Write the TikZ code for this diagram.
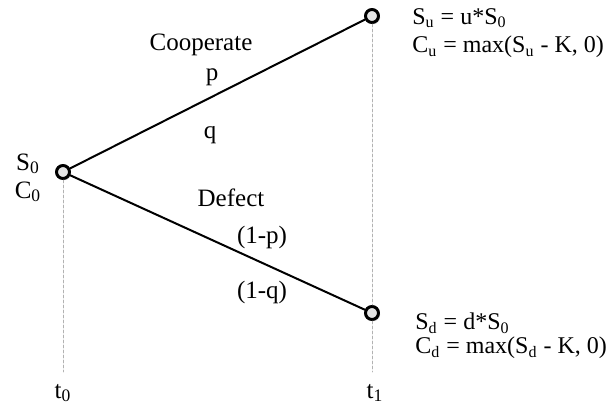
\documentclass[tikz,border=0pt]{standalone}
\usepackage{fontspec}
\setmainfont{Liberation Serif}
\usetikzlibrary{shadows}
\tikzset{
  state/.style={circle,draw,line width=1.5pt,fill=gray!20,inner sep=0pt,minimum size=6.5pt,
    drop shadow={shadow xshift=0.8pt,shadow yshift=-0.8pt,opacity=0.3}},
  branch/.style={line width=1pt},
  guide/.style={gray!60,dash pattern=on 1.5pt off 1pt,line width=0.3pt},
  lbl/.style={inner sep=0pt},
  payoff/.style={inner sep=0pt,anchor=west,font=\fontsize{12}{14}\selectfont},
}
\begin{document}
\begin{tikzpicture}[x=0.5pt,y=-0.5pt,line cap=round,line join=round,font=\fontsize{12.5}{15}\selectfont]
  \useasboundingbox (0,0) rectangle (612,410);
  \coordinate (rootend) at (63,372);
  \coordinate (downend) at (372,372);
  \node[state] (root) at (63,172) {};
  \node[state] (up) at (372,16) {};
  \node[state] (down) at (372,313) {};
  \draw[guide] (root) -- (rootend);
  \draw[guide] (up) -- (down);
  \draw[guide] (down) -- (downend);
  \draw[branch] (root) -- (up);
  \draw[branch] (root) -- (down);
  % root values
  \node[lbl] (s0) at (28,164) {S\textsubscript{0}};
  \node[lbl] (c0) at (28,192) {C\textsubscript{0}};
  % branch labels
  \node[lbl] (coop) at (201,45) {Cooperate};
  \node[lbl] (pup) at (212,77) {p};
  \node[lbl] (qup) at (210,135) {q};
  \node[lbl] (defect) at (231,198) {Defect};
  \node[lbl] (pdown) at (262,237) {(1-p)};
  \node[lbl] (qdown) at (262,292) {(1-q)};
  % payoffs
  \node[payoff] (su) at (412,18) {S\textsubscript{u} = u*S\textsubscript{0}};
  \node[payoff] (cu) at (412,47) {C\textsubscript{u} = max(S\textsubscript{u} - K, 0)};
  \node[payoff] (sd) at (415,323) {S\textsubscript{d} = d*S\textsubscript{0}};
  \node[payoff] (cd) at (415,348) {C\textsubscript{d} = max(S\textsubscript{d} - K, 0)};
  % time axis
  \node[lbl] (t0) at (63,393) {t\textsubscript{0}};
  \node[lbl] (t1) at (375,393) {t\textsubscript{1}};
\end{tikzpicture}
\end{document}
